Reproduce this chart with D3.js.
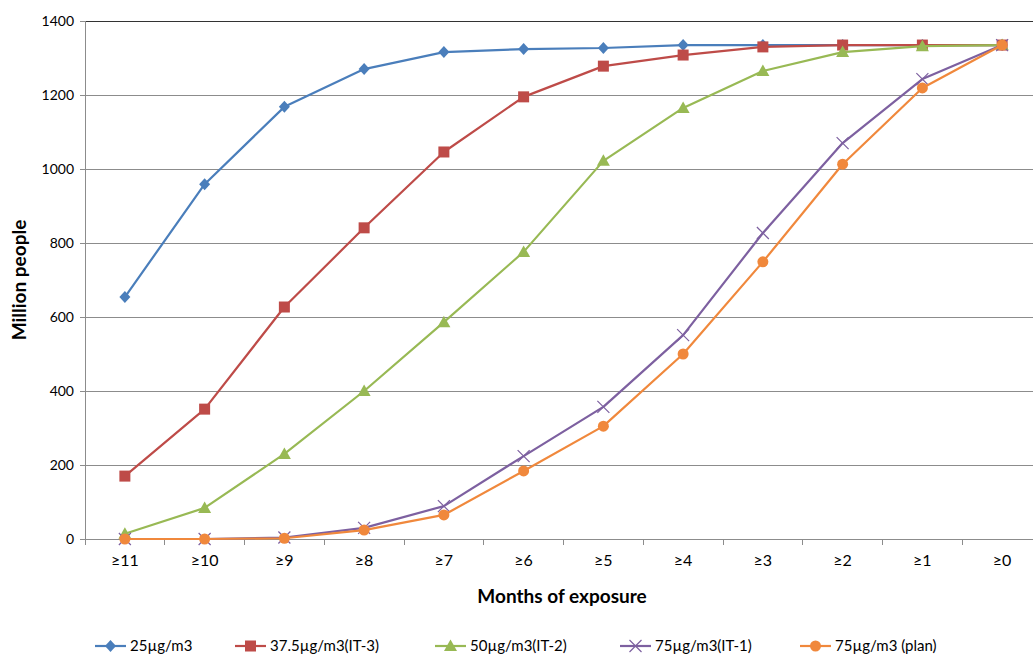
<!DOCTYPE html>
<html><head><meta charset="utf-8">
<script src="https://cdn.jsdelivr.net/npm/d3@7"></script>
<style>body{margin:0;background:#fff}svg{display:block}text{font-family:Lato,"Open Sans",sans-serif}</style>
</head><body><svg id="c" width="1033" height="659"></svg>
<script>
const categories = ["≥11","≥10","≥9","≥8","≥7","≥6","≥5","≥4","≥3","≥2","≥1","≥0"];
const yTicks = [0,200,400,600,800,1000,1200,1400];
const seriesNames = ["25µg/m3","37.5µg/m3(IT-3)","50µg/m3(IT-2)","75µg/m3(IT-1)","75µg/m3 (plan)"];
const s25   = [654, 959, 1168, 1270, 1316, 1324, 1327, 1335, 1335, 1335, 1335, 1335];
const sIT3  = [170, 351, 627, 841, 1046, 1195, 1278, 1308, 1330, 1335, 1335, 1335];
const sIT2  = [14, 84, 230, 400, 586, 776, 1022, 1165, 1265, 1316, 1332, 1335];
const sIT1  = [0, 0, 4, 30, 89, 224, 357, 551, 827, 1070, 1243, 1335];
const sPlan = [0, 0, 2, 24, 65, 184, 305, 500, 749, 1013, 1219, 1335];
const seriesValues = [s25, sIT3, sIT2, sIT1, sPlan];
const colors = ["#4A7EBB","#BE4B48","#98B954","#7D60A0","#F0883C"];
const markers = ["diamond","square","triangle","x","circle"];

const svg = d3.select("#c");
const L = 85, R = 1042, T = 21, B = 539;
const x = d3.scaleBand().domain(categories).range([L, R]);
const y = d3.scaleLinear().domain([0, 1400]).range([B, T]);

// gridlines
svg.append("g").selectAll("line").data(yTicks.filter(d => d > 0)).join("line")
  .attr("x1", L).attr("x2", R).attr("y1", d => y(d)).attr("y2", d => y(d))
  .attr("stroke", d => d === 1400 ? "#333" : "#8c8c8c").attr("stroke-width", 1).attr("shape-rendering","crispEdges");

// y axis
const ya = svg.append("g").attr("transform", `translate(${L},0)`)
  .call(d3.axisLeft(y).tickValues(yTicks).tickFormat(d3.format("d")).tickSize(5).tickPadding(6));
ya.select(".domain").attr("stroke", "#8c8c8c").attr("shape-rendering","crispEdges");
ya.selectAll(".tick line").attr("stroke", "#8c8c8c").attr("shape-rendering","crispEdges");
ya.selectAll("text").attr("font-size", 14).attr("fill", "#000").style("font-family","Lato,'Open Sans',sans-serif");

// x axis
const xa = svg.append("g").attr("transform", `translate(0,${B})`)
  .call(d3.axisBottom(x).tickSize(0).tickPadding(16));
xa.select(".domain").attr("stroke", "#8c8c8c").attr("shape-rendering","crispEdges");
xa.selectAll("text").attr("font-size", 16).attr("fill", "#000").style("font-family","Lato,'Open Sans',sans-serif");
// boundary ticks between categories
svg.append("g").selectAll("line").data(categories).join("line")
  .attr("x1", d => x(d)).attr("x2", d => x(d)).attr("y1", B).attr("y2", B + 6)
  .attr("stroke", "#8c8c8c").attr("shape-rendering","crispEdges");

// axis titles
svg.append("text").attr("x", 562).attr("y", 603).attr("text-anchor","middle")
  .attr("font-size", 19).attr("font-weight","bold").text("Months of exposure");
svg.append("text").attr("transform", "translate(26,280) rotate(-90)").attr("text-anchor","middle")
  .attr("font-size", 19).attr("font-weight","bold").text("Million people");

function drawMarker(g, type, color, cx, cy) {
  if (type === "diamond") {
    g.append("path").attr("d", `M${cx},${cy-6}L${cx+5.5},${cy}L${cx},${cy+6}L${cx-5.5},${cy}Z`).attr("fill", color);
  } else if (type === "square") {
    g.append("rect").attr("x", cx-5.5).attr("y", cy-5.5).attr("width", 11).attr("height", 11).attr("fill", color);
  } else if (type === "triangle") {
    g.append("path").attr("d", `M${cx},${cy-6.5}L${cx+6.5},${cy+5}L${cx-6.5},${cy+5}Z`).attr("fill", color);
  } else if (type === "circle") {
    g.append("circle").attr("cx", cx).attr("cy", cy).attr("r", 5.5).attr("fill", color);
  } else if (type === "x") {
    g.append("path").attr("d", `M${cx-6},${cy-6}L${cx+6},${cy+6}M${cx-6},${cy+6}L${cx+6},${cy-6}`)
      .attr("stroke", color).attr("stroke-width", 1.2).attr("fill","none");
  }
}

const cx = d => x(d) + x.bandwidth() / 2;
const line = d3.line().x(d => cx(d.c)).y(d => y(d.v));
seriesValues.forEach((vals, i) => {
  const data = categories.map((c, j) => ({c, v: vals[j]}));
  const g = svg.append("g");
  g.append("path").datum(data).attr("d", line).attr("fill","none")
    .attr("stroke", colors[i]).attr("stroke-width", 2.2).attr("stroke-linejoin","round");
  data.forEach(d => drawMarker(g, markers[i], colors[i], cx(d.c), y(d.v)));
});

// legend
const legX = [95, 235, 435, 620, 800];
const lg = svg.append("g");
seriesNames.forEach((n, i) => {
  const lx = legX[i], ly = 646;
  lg.append("line").attr("x1", lx).attr("x2", lx + 31).attr("y1", ly).attr("y2", ly)
    .attr("stroke", colors[i]).attr("stroke-width", 2.2);
  drawMarker(lg, markers[i], colors[i], lx + 15.5, ly);
  lg.append("text").attr("x", lx + 35).attr("y", ly + 5).attr("font-size", 15).text(n);
});
</script></body></html>
